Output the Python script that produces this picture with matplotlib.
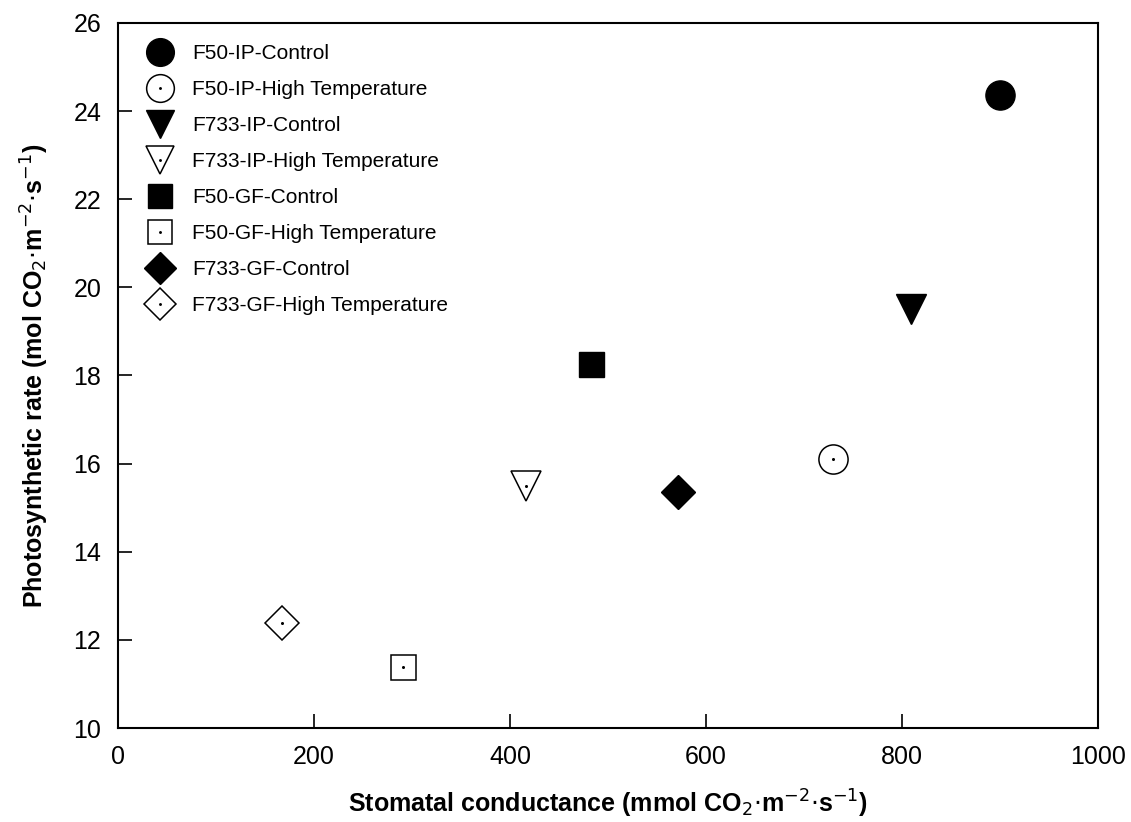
import matplotlib
matplotlib.use("Agg")
import matplotlib.pyplot as plt

plt.rcParams['font.family'] = ['Liberation Sans Narrow', 'Liberation Sans', 'DejaVu Sans']

labels = ['F50-IP-Control', 'F50-IP-High Temperature', 'F733-IP-Control',
          'F733-IP-High Temperature', 'F50-GF-Control', 'F50-GF-High Temperature',
          'F733-GF-Control', 'F733-GF-High Temperature']
conductance = [900, 730, 809, 416, 483, 291, 571, 167]
photo_rate = [24.37, 16.10, 19.51, 15.49, 18.26, 11.38, 15.36, 12.38]

markers = ['o', 'o', 'v', 'v', 's', 's', 'D', 'D']
sizes = [21, 21, 21, 21, 18, 18, 17, 17]
filled = [True, False, True, False, True, False, True, False]

fig = plt.figure(figsize=(11.31, 8.22), dpi=100)
ax = fig.add_axes([118 / 1131, 1 - 728 / 822, 980 / 1131, 705 / 822])

handles = []
for lab, x, y, m, s, f in zip(labels, conductance, photo_rate, markers, sizes, filled):
    if f:
        h, = ax.plot(x, y, marker=m, ms=s, color='black', mec='black', ls='none')
        handles.append(h)
    else:
        h, = ax.plot(x, y, marker=m, ms=s, mfc='white', mec='black', mew=1.1, ls='none')
        d, = ax.plot(x, y, marker='o', ms=2.2, color='black', mew=0, ls='none')
        handles.append((h, d))

ax.set_xlim(0, 1000)
ax.set_ylim(10, 26)
ax.set_xticks([0, 200, 400, 600, 800, 1000])
ax.set_yticks([10, 12, 14, 16, 18, 20, 22, 24, 26])
ax.tick_params(direction='in', length=10, width=1.2, labelsize=18, pad=12)
for sp in ax.spines.values():
    sp.set_linewidth(1.5)

ax.set_xlabel(r'Stomatal conductance (mmol CO$_2$$\cdot$m$^{-2}$$\cdot$s$^{-1}$)',
              fontsize=18, fontweight='bold', labelpad=14)
ax.set_ylabel(r'Photosynthetic rate (mol CO$_2$$\cdot$m$^{-2}$$\cdot$s$^{-1}$)',
              fontsize=18, fontweight='bold', labelpad=16)

ax.legend(handles, labels, loc='upper left', bbox_to_anchor=(0.005, 1.0),
          frameon=False, fontsize=15,
          markerscale=0.95, handletextpad=0.72, labelspacing=0.82,
          borderaxespad=0.5, borderpad=0.5, numpoints=1, handlelength=1.6)

fig.savefig('out.png', dpi=100)
